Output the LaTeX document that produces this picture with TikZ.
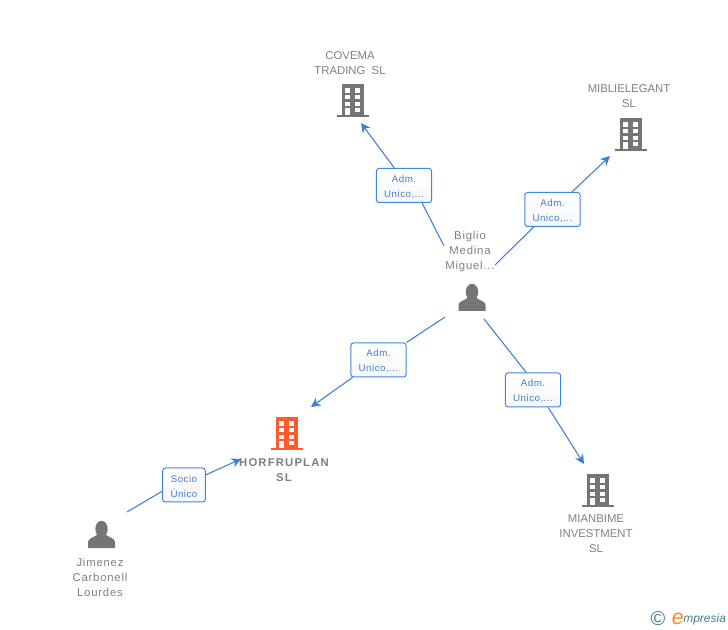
\documentclass[tikz,border=0pt]{standalone}
\usepackage{fontspec}
\setmainfont{Liberation Sans}
\usetikzlibrary{positioning,arrows.meta}
\definecolor{linkblue}{HTML}{3A7FDD}
\definecolor{boxblue}{HTML}{3F86E4}
\definecolor{textblue}{HTML}{3F7FD0}
\definecolor{icongray}{HTML}{757575}
\definecolor{namegray}{HTML}{808080}
\definecolor{iconred}{HTML}{FF5A2B}
\definecolor{logoteal}{HTML}{3F7F94}
\definecolor{logoorange}{HTML}{F58A1F}
\newcommand{\rolelines}[2]{\rule{0pt}{7pt}#1\\#2}

\begin{document}
\begin{tikzpicture}[
    x=0.75pt, y=-0.75pt,
    % styles
    namenode/.style={align=center, text=namegray, inner sep=0pt, font=\fontsize{8.5}{11.25}\selectfont},
    mixednode/.style={namenode, font=\fontsize{8.5}{11.25}\selectfont\addfontfeature{LetterSpace=7}},
    rolenode/.style={rectangle, rounded corners=2pt, draw=boxblue, line width=0.75pt, top color=white, bottom color=black!3, text=textblue,
        align=center, minimum width=41.5pt, minimum height=25.5pt, inner sep=0pt,
        font=\fontsize{7.3}{11.25}\selectfont\addfontfeature{LetterSpace=5}},
    link/.style={linkblue, line width=0.8pt},
    arrowlink/.style={link, -{Stealth[length=7pt,width=7pt,inset=2pt]}},
    building/.pic={
        \fill[pic actions] (-10.5,-16) rectangle (11.5,15);
        \fill[pic actions] (-15.3,15) rectangle (16.7,17.5);
        \foreach \r in {-11.7,-5,1.7}{
            \fill[white] (-7,\r) rectangle (-2,{\r+4.4});
            \fill[white] (3,\r) rectangle (8,{\r+4.4});
        }
        \fill[white] (-7,7.8) rectangle (-2,15);
        \fill[white] (3,7.8) rectangle (8,12);
    },
    person/.pic={
        \fill[pic actions] (0,-5) ellipse (6.2 and 8.2);
        \fill[pic actions] (-13.5,14) -- (-13.5,8) .. controls (-13.5,4) and (-6,3) .. (-3.5,0)
            -- (3.5,0) .. controls (6,3) and (13.5,4) .. (13.5,8) -- (13.5,14) -- cycle;
    },
    ]
    \useasboundingbox (0,0) rectangle (728,630);

    %Icons
    \pic[fill=icongray] at (352,100) {building};
    \pic[fill=icongray] at (630,134) {building};
    \pic[fill=iconred] at (286,433) {building};
    \pic[fill=icongray] at (597,490) {building};
    \pic[fill=icongray] at (472,297) {person};
    \pic[fill=icongray] at (101.5,534) {person};

    %Names
    \node[namenode] (covema) at (350,63) {COVEMA\\TRADING\ \ SL};
    \node[namenode] (miblielegant) at (629,96) {MIBLIELEGANT\\SL};
    \node[mixednode] (miguel) at (470,251.5) {Biglio\\Medina\\Miguel...};
    \node[namenode, font=\fontsize{8.5}{11.25}\selectfont\bfseries\addfontfeature{LetterSpace=10}] (horfruplan) at (284,470) {HORFRUPLAN\\SL};
    \node[namenode] (mianbime) at (596,533.5) {MIANBIME\\INVESTMENT\\SL};
    \node[mixednode] (jimenez) at (100,577) {Jimenez\\Carbonell\\Lourdes};

    %Role boxes
    \node[rolenode] (rolecovema) at (404,185.5) {\rolelines{Adm.}{Unico,...}};
    \node[rolenode] (rolemiblie) at (552.5,209.5) {\rolelines{Adm.}{Unico,...}};
    \node[rolenode] (rolehorfru) at (378.5,360) {\rolelines{Adm.}{Unico,...}};
    \node[rolenode] (rolemianbime) at (533,390) {\rolelines{Adm.}{Unico,...}};
    \node[rolenode, minimum width=32pt] (rolejimenez) at (184,485) {\rolelines{Socio}{Único}};

    %Line ends
    \coordinate (tipcovema) at (361,123);
    \coordinate (tipmiblie) at (610,156);
    \coordinate (tiphorfru) at (311,407);
    \coordinate (tipmianbime) at (584,464);
    \coordinate (tipjimenez) at (241,459);
    \coordinate (startcovema) at (444,246);
    \coordinate (startmiblie) at (495,265);
    \coordinate (starthorfru) at (445,317);
    \coordinate (startmianbime) at (484,319);
    \coordinate (startjimenez) at (127,512);

    %Lines
    \draw[link] (startcovema) -- (rolecovema.-44);
    \draw[arrowlink] (rolecovema.119) -- (tipcovema);
    \draw[link] (startmiblie) -- (rolemiblie.223);
    \draw[arrowlink] (rolemiblie.42) -- (tipmiblie);
    \draw[link] (starthorfru) -- (rolehorfru.32);
    \draw[arrowlink] (rolehorfru.214) -- (tiphorfru);
    \draw[link] (startmianbime) -- (rolemianbime.111);
    \draw[arrowlink] (rolemianbime.-49) -- (tipmianbime);
    \draw[link] (startjimenez) -- (rolejimenez.196);
    \draw[arrowlink] (rolejimenez.25) -- (tipjimenez);

    %Logo
    \node[text=logoteal, inner sep=0pt, font=\fontsize{15}{15}\selectfont] (logoc) at (658,619) {©};
    \node[text=logoorange, inner sep=0pt, font=\fontsize{16}{16}\selectfont\itshape, right=4.5pt of logoc] (logoe) {e};
    \node[text=logoteal, inner sep=0pt, font=\fontsize{9}{10}\selectfont\itshape, anchor=west] (logotext) at (683,619.5) {mpresia};
\end{tikzpicture}
\end{document}
